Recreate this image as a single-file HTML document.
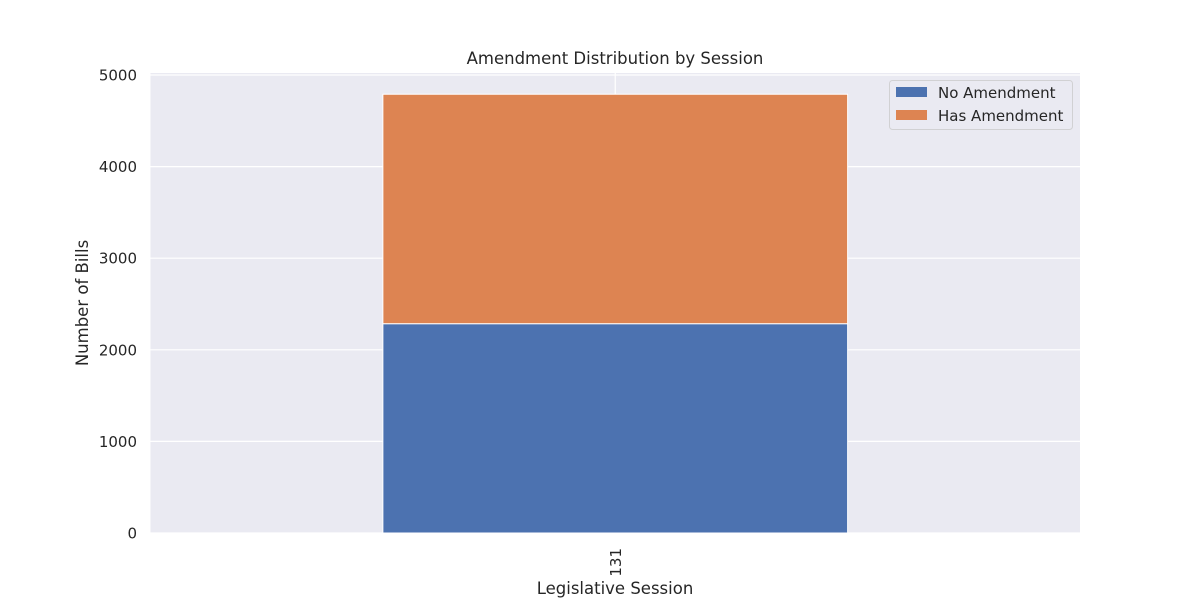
<!DOCTYPE html>
<html><head><meta charset="utf-8"><style>
body{margin:0;background:#fff;}
svg text{font-family:"DejaVu Sans","Liberation Sans",sans-serif;fill:#262626;}
</style></head><body>
<svg id="chart" width="1200" height="600" xmlns="http://www.w3.org/2000/svg">
<rect x="150.5" y="73" width="929.5" height="460" fill="#eaeaf2"/>
<g id="grid"></g>
<g id="bars"></g>
<g id="ticks"></g>
<text x="615" y="64" font-size="16.5" text-anchor="middle">Amendment Distribution by Session</text>
<text transform="translate(88,303) rotate(-90)" font-size="16.5" text-anchor="middle">Number of Bills</text>
<text x="615" y="594" font-size="16.5" text-anchor="middle">Legislative Session</text>
<g>
<rect x="889.5" y="80.5" width="183" height="49" rx="3" fill="#eaeaf2" stroke="#cccccc" opacity="0.8"/>
<rect x="896" y="87" width="31" height="10" fill="#4c72b0"/>
<text x="938" y="98" font-size="15">No Amendment</text>
<rect x="896" y="110" width="31" height="10" fill="#dd8452"/>
<text x="938" y="121" font-size="15">Has Amendment</text>
</g>
</svg>
<script>
const categories=["131"];
const noAmendment=[2285];
const hasAmendment=[2505];
const yTicks=[0,1000,2000,3000,4000,5000];
const NS="http://www.w3.org/2000/svg";
const x0=150.5,x1=1080,yBase=533,yTop=73,yMax=5022;
function yS(v){return yBase-(v/yMax)*(yBase-yTop);}
const band=(x1-x0)/categories.length;
function xC(i){return x0+band*(i+0.5);}
function mk(tag,attrs,parent){const e=document.createElementNS(NS,tag);for(const k in attrs)e.setAttribute(k,attrs[k]);document.getElementById(parent).appendChild(e);return e;}
yTicks.forEach(t=>{
  const l=mk('line',{x1:x0,x2:x1,y1:yS(t),y2:yS(t),stroke:'#fff','stroke-width':1.2},'grid');
  
  
  const tx=mk('text',{x:137,y:yS(t)+5.5,'font-size':15,'text-anchor':'end'},'ticks');
  tx.textContent=t;
  
  
});
categories.forEach((c,i)=>{
  const gl=mk('line',{x1:xC(i),x2:xC(i),y1:yTop,y2:yBase,stroke:'#fff','stroke-width':1.2},'grid');
  
  
  const w=band*0.5;
  const b1=mk('rect',{x:xC(i)-w/2,y:yS(noAmendment[i]),width:w,height:yBase-yS(noAmendment[i]),fill:'#4c72b0',stroke:'#fff','stroke-width':1},'bars');
  
  
  const tot=noAmendment[i]+hasAmendment[i];
  const b2=mk('rect',{x:xC(i)-w/2,y:yS(tot),width:w,height:yS(noAmendment[i])-yS(tot),fill:'#dd8452',stroke:'#fff','stroke-width':1},'bars');
  
  
  const tx=mk('text',{transform:`translate(${xC(i)+5.5},548) rotate(-90)`,'font-size':15,'text-anchor':'end'},'ticks');
  tx.textContent=c;
  
  
});
</script>
</body></html>
